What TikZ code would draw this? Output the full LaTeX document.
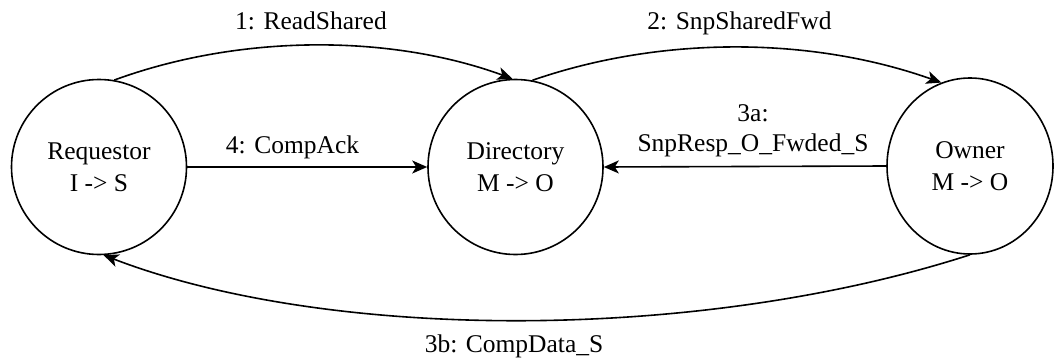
\documentclass[tikz,border=0pt]{standalone}
\usepackage{fontspec}
\setmainfont{Liberation Serif}
\usetikzlibrary{arrows.meta,shapes.geometric}
\begin{document}
\begin{tikzpicture}[x=1pt,y=-1pt,
  state/.style={draw, line width=1.6pt, inner sep=0pt, align=center,
    font=\fontsize{25.5}{32}\selectfont},
  msg/.style={font=\fontsize{25.5}{30}\selectfont, align=center, inner sep=0pt},
  flow/.style={line width=1.6pt, -{Stealth[length=15pt,width=13pt,inset=4pt]}}]
\useasboundingbox (0,0) rectangle (1056,361);
% agents of the snoop transaction
\node[state, circle, minimum size=175pt] (req) at (99,167) {Requestor\\I -> S};
\node[state, circle, minimum size=175pt] (dir) at (515.5,167) {Directory\\M -> O};
\node[state, ellipse, minimum width=166pt, minimum height=176pt] (own) at (970,166) {Owner\\M -> O};
% messages
\draw[flow] (req.80) .. controls (240,34) and (390,34) .. (dir.92);
\draw[flow] (dir.79) .. controls (660,36) and (810,36) .. (own.109);
\draw[flow] (req.east) -- (dir.west);
\draw[flow] (own.west) -- (dir.east);
\draw[flow] (own.south) .. controls (700,342) and (330,342) .. (req.-87);
% message labels
\node[msg, anchor=base] (l1) at (311,29.3) {1: ReadShared};
\node[msg, anchor=base] (l2) at (739.5,30) {2: SnpSharedFwd};
\node[msg, anchor=base] (l4) at (292.5,153) {4: CompAck};
\node[msg, anchor=base] (l3a) at (753,151.7) {3a:\\SnpResp\_O\_Fwded\_S};
\node[msg, anchor=base] (l3b) at (514,352) {3b: CompData\_S};
\end{tikzpicture}
\end{document}
